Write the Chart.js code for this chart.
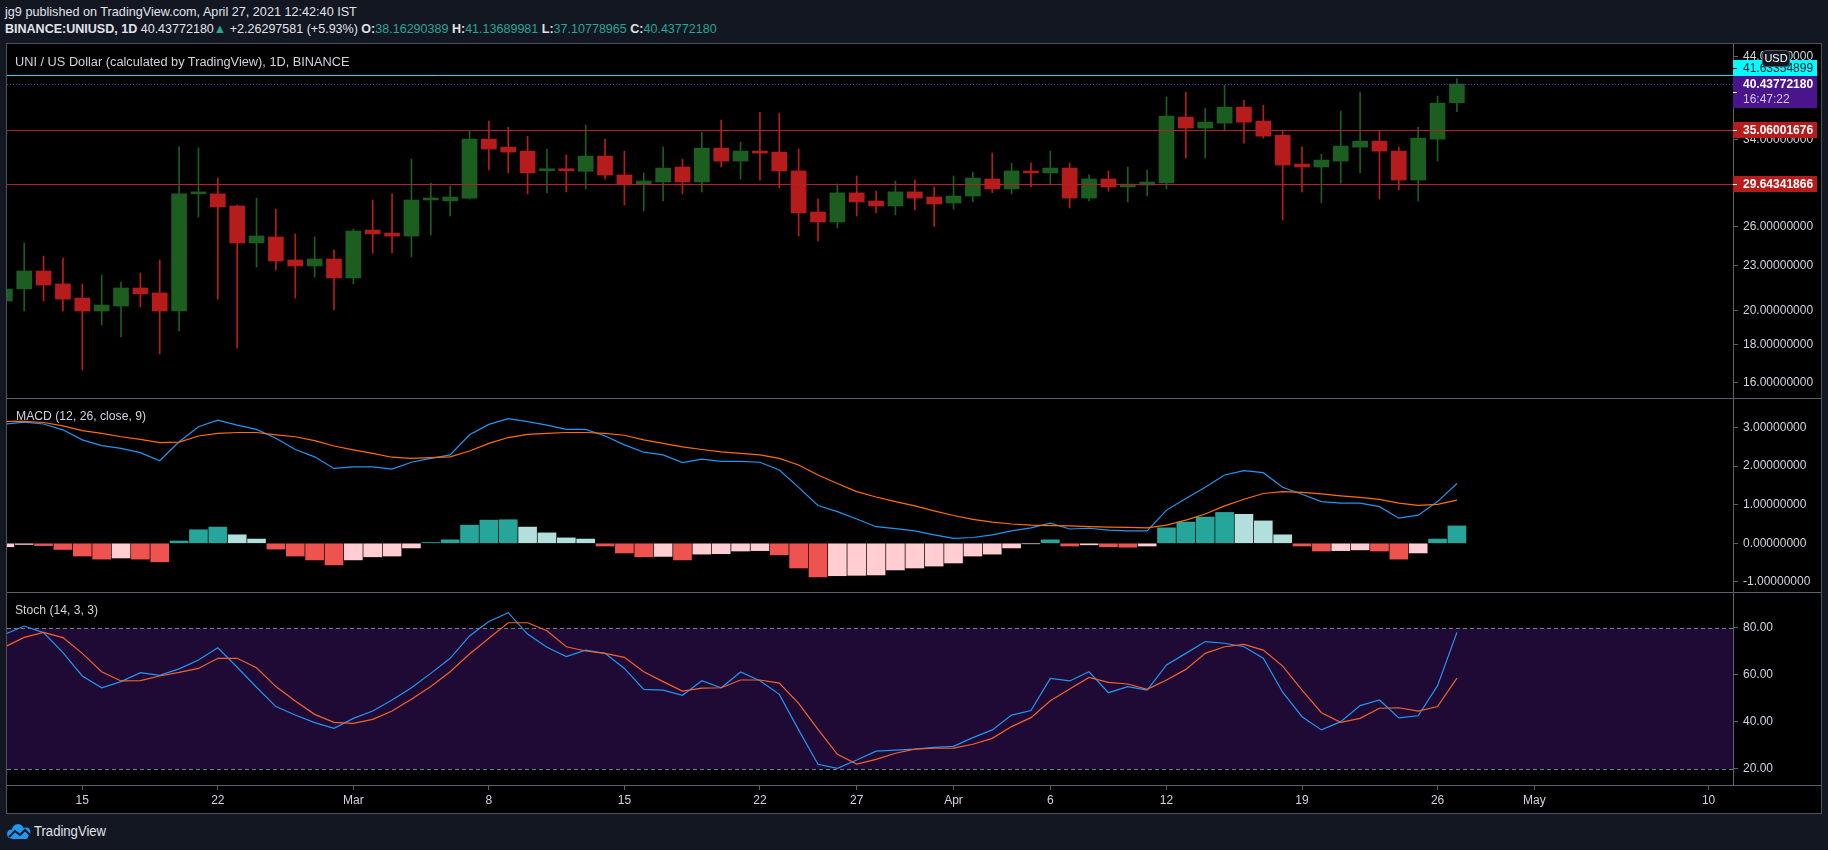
<!DOCTYPE html>
<html>
<head>
<meta charset="utf-8">
<title>UNI / US Dollar</title>
<script src="https://cdn.jsdelivr.net/npm/chart.js@4.4.0/dist/chart.umd.min.js"></script>
<style>
  html, body { margin: 0; padding: 0; }
  body {
    width: 1828px; height: 850px; position: relative; overflow: hidden;
    background: #131722; color: #d1d4dc;
    font-family: "Liberation Sans", Arial, sans-serif;
  }
  .txt { position: absolute; white-space: nowrap; line-height: 16px; transform-origin: 0 50%; }
  .g { color: #26a69a; }
  #frame {
    position: absolute; left: 6px; top: 43px; width: 1816px; height: 771px;
    box-sizing: border-box; border: 1px solid #4c525e; background: #000;
  }
  canvas { position: absolute; left: 7px; }
  .sep { position: absolute; left: 7px; width: 1814px; height: 1px; background: #5d606b; }
  #usd {
    position: absolute; left: 1762px; top: 50px; width: 28px; height: 17px; box-sizing: border-box;
    background: #131722; border: 1px solid #50535e; border-radius: 4px;
    font-size: 11px; line-height: 15px; text-align: center; color: #fff;
  }
</style>
</head>
<body>
<div class="txt" id="hdr1" style="left:5px;top:4px;font-size:13px;color:#e0e3eb">jg9 published on TradingView.com, April 27, 2021 12:42:40 IST</div>
<div class="txt" id="hdr2" style="left:5px;top:21px;font-size:13px;color:#e0e3eb"><b>BINANCE:UNIUSD, 1D</b> 40.43772180<span class="g">▲</span> +2.26297581 (+5.93%) <b>O:</b><span class="g">38.16290389</span> <b>H:</b><span class="g">41.13689981</span> <b>L:</b><span class="g">37.10778965</span> <b>C:</b><span class="g">40.43772180</span></div>

<div id="frame"></div>
<canvas id="price" width="1814" height="354" style="top:44px"></canvas>
<canvas id="macd" width="1814" height="193" style="top:399px"></canvas>
<canvas id="stoch" width="1814" height="220" style="top:593px"></canvas>
<div class="sep" style="top:398px"></div>
<div class="sep" style="top:592px"></div>
<div class="sep" style="top:785px"></div>

<div class="txt" id="title" style="left:15px;top:54px;font-size:12px">UNI / US Dollar (calculated by TradingView), 1D, BINANCE</div>
<div class="txt" id="macdLbl" style="left:16px;top:408px;font-size:12px">MACD (12, 26, close, 9)</div>
<div class="txt" id="stochLbl" style="left:15px;top:602px;font-size:12px">Stoch (14, 3, 3)</div>
<div id="usd">USD</div>

<svg style="position:absolute;left:6px;top:823px" width="27" height="17" viewBox="0 0 27 17">
  <g fill="#2196f3">
    <circle cx="12" cy="7" r="6"/>
    <circle cx="20" cy="9" r="4.5"/>
    <circle cx="5.5" cy="11" r="4.5"/>
    <rect x="5" y="9" width="17" height="7" rx="2"/>
  </g>
  <polyline points="3,14 9,8 14,12 19,7 24,12" stroke="#131722" stroke-width="2" fill="none"/>
</svg>
<div class="txt" id="tvText" style="left:34px;top:823px;font-size:14px;color:#e0e3eb">TradingView</div>

<script>
// daily candles, Feb 11 .. Apr 27 2021
const firstDate = "2021-02-11";
const opens = [20.63, 21.42, 22.64, 21.75, 20.82, 20.00, 20.31, 21.48, 21.15, 20.00,
  28.76, 28.76, 27.70, 24.70, 25.16, 23.43, 23.00, 23.50, 22.16, 25.71,
  25.47, 25.23, 28.22, 28.14, 28.39, 34.08, 33.25, 32.84, 30.90, 31.00,
  30.85, 32.34, 30.50, 29.65, 29.84, 31.26, 29.84, 33.15, 31.84, 32.84,
  32.74, 30.88, 27.19, 26.36, 28.85, 28.13, 27.70, 28.94, 28.48, 27.96,
  28.57, 30.12, 29.20, 30.88, 30.69, 31.16, 28.39, 30.12, 29.38, 29.56,
  29.75, 36.49, 35.27, 35.82, 37.64, 36.05, 34.50, 31.55, 31.26, 31.84,
  33.25, 33.87, 32.84, 30.02, 34.08, 38.16];
const highs = [22.00, 24.70, 23.72, 23.58, 21.75, 22.36, 21.88, 22.50, 23.43, 33.28,
  33.17, 30.21, 27.80, 28.39, 27.44, 25.40, 25.16, 24.17, 25.79, 28.22,
  28.76, 32.04, 29.74, 29.47, 35.05, 36.05, 35.37, 34.40, 33.05, 32.44,
  35.60, 34.08, 32.84, 30.69, 33.25, 32.04, 34.84, 36.16, 33.77, 37.05,
  36.94, 33.05, 28.30, 29.65, 30.40, 29.02, 29.93, 30.02, 29.38, 30.40,
  30.78, 32.64, 31.64, 31.64, 32.84, 31.64, 30.50, 30.88, 31.26, 30.97,
  38.84, 39.43, 37.52, 40.30, 38.47, 37.87, 35.05, 33.28, 32.54, 37.17,
  39.43, 34.94, 33.25, 35.37, 38.95, 41.14];
const lows = [20.30, 20.00, 20.63, 20.00, 16.66, 19.15, 18.45, 20.25, 17.50, 18.80,
  26.77, 20.75, 17.83, 22.92, 22.71, 20.82, 22.22, 20.06, 21.75, 23.94,
  23.94, 23.65, 25.32, 26.85, 28.30, 30.97, 30.69, 28.76, 28.85, 28.94,
  29.20, 30.10, 27.78, 27.28, 28.13, 28.76, 28.94, 31.26, 30.10, 30.02,
  29.29, 25.24, 24.85, 25.87, 26.85, 27.11, 26.94, 27.36, 26.00, 27.44,
  28.05, 28.85, 28.76, 29.38, 29.56, 27.53, 28.13, 29.02, 28.05, 28.57,
  29.20, 32.14, 32.14, 34.94, 33.66, 34.19, 26.52, 28.94, 27.96, 29.74,
  30.69, 28.30, 29.11, 28.13, 31.84, 37.11];
const closes = [21.41, 22.64, 21.68, 20.75, 20.00, 20.37, 21.48, 21.09, 20.00, 28.76,
  28.82, 27.62, 24.70, 25.24, 23.36, 23.00, 23.50, 22.16, 25.63, 25.40,
  25.23, 28.22, 28.30, 28.48, 34.08, 33.05, 32.74, 30.69, 31.00, 30.90,
  32.34, 30.50, 29.65, 29.93, 31.16, 29.84, 33.15, 31.84, 32.84, 32.64,
  30.88, 27.11, 26.36, 28.85, 28.05, 27.70, 28.94, 28.39, 27.87, 28.57,
  30.21, 29.20, 30.88, 30.69, 31.16, 28.39, 30.12, 29.38, 29.65, 29.84,
  36.60, 35.27, 35.93, 37.64, 35.93, 34.40, 31.45, 31.26, 31.94, 33.36,
  33.87, 32.84, 30.02, 34.19, 38.11, 40.44];

const macdLine = [3.09, 3.14, 3.09, 2.94, 2.68, 2.53, 2.46, 2.35, 2.14, 2.63,
  3.02, 3.19, 3.06, 2.95, 2.72, 2.43, 2.24, 1.94, 1.98, 1.98,
  1.92, 2.10, 2.20, 2.29, 2.81, 3.08, 3.23, 3.15, 3.06, 2.95,
  2.95, 2.78, 2.55, 2.36, 2.29, 2.09, 2.18, 2.12, 2.12, 2.10,
  1.90, 1.45, 0.98, 0.82, 0.63, 0.43, 0.38, 0.32, 0.22, 0.13,
  0.15, 0.22, 0.32, 0.40, 0.52, 0.37, 0.39, 0.34, 0.32, 0.32,
  0.86, 1.16, 1.45, 1.77, 1.88, 1.83, 1.45, 1.27, 1.08, 1.04,
  1.04, 0.95, 0.65, 0.73, 1.08, 1.55];
const signalLine = [3.16, 3.16, 3.13, 3.04, 2.92, 2.85, 2.76, 2.69, 2.61, 2.62,
  2.78, 2.85, 2.87, 2.87, 2.81, 2.76, 2.66, 2.52, 2.42, 2.33,
  2.23, 2.20, 2.22, 2.24, 2.39, 2.59, 2.74, 2.82, 2.85, 2.87,
  2.87, 2.85, 2.80, 2.68, 2.59, 2.50, 2.43, 2.37, 2.33, 2.29,
  2.20, 2.03, 1.77, 1.55, 1.34, 1.20, 1.08, 0.97, 0.84, 0.72,
  0.62, 0.55, 0.50, 0.47, 0.46, 0.45, 0.43, 0.42, 0.41, 0.40,
  0.47, 0.60, 0.76, 0.97, 1.14, 1.29, 1.34, 1.32, 1.28, 1.23,
  1.19, 1.14, 1.04, 0.98, 1.01, 1.12];
const macdHist = [-0.09, -0.03, -0.06, -0.16, -0.33, -0.41, -0.38, -0.41, -0.48, 0.06,
  0.35, 0.42, 0.22, 0.11, -0.15, -0.33, -0.43, -0.56, -0.43, -0.35,
  -0.33, -0.12, 0.02, 0.09, 0.47, 0.60, 0.61, 0.42, 0.27, 0.14,
  0.11, -0.07, -0.25, -0.35, -0.34, -0.43, -0.28, -0.27, -0.20, -0.19,
  -0.30, -0.64, -0.87, -0.84, -0.83, -0.82, -0.69, -0.64, -0.59, -0.51,
  -0.33, -0.28, -0.12, -0.01, 0.09, -0.07, -0.04, -0.09, -0.10, -0.07,
  0.40, 0.55, 0.68, 0.80, 0.75, 0.58, 0.22, -0.07, -0.20, -0.19,
  -0.17, -0.20, -0.41, -0.25, 0.11, 0.45];

const stochK = [77.2, 80.7, 77.9, 69.4, 59.5, 54.5, 57.1, 60.9, 59.8, 62.5,
  66.3, 71.5, 63.2, 54.7, 46.5, 42.9, 39.7, 37.3, 41.5, 44.6,
  49.3, 54.5, 60.6, 67.0, 76.5, 82.6, 86.4, 77.3, 71.7, 67.7,
  70.5, 69.1, 62.7, 53.8, 53.5, 51.3, 57.5, 54.5, 61.2, 57.5,
  51.7, 36.6, 22.0, 20.3, 23.8, 27.6, 28.0, 28.4, 29.2, 29.6,
  33.3, 36.6, 42.9, 44.8, 58.5, 57.4, 61.3, 52.4, 55.0, 53.5,
  64.2, 69.1, 74.1, 73.4, 71.9, 67.0, 52.6, 42.2, 36.6, 40.1,
  46.9, 49.3, 41.7, 42.6, 55.4, 78.0];
const stochD = [71.9, 75.9, 78.0, 75.8, 69.1, 61.3, 57.4, 57.5, 59.5, 61.0,
  62.7, 67.0, 67.0, 63.0, 55.0, 48.9, 43.2, 39.8, 39.4, 41.1,
  44.6, 49.6, 55.0, 61.3, 68.8, 75.5, 82.1, 82.1, 78.7, 71.9,
  70.1, 69.1, 67.4, 61.3, 57.1, 53.1, 54.3, 54.5, 57.8, 57.8,
  56.5, 47.9, 36.8, 26.2, 22.1, 24.1, 26.7, 28.4, 28.8, 28.9,
  30.5, 33.0, 38.0, 41.8, 49.0, 54.0, 58.9, 56.8, 56.1, 53.8,
  57.8, 62.3, 69.1, 71.9, 72.9, 70.5, 63.7, 53.5, 43.9, 39.8,
  41.5, 45.8, 46.0, 44.6, 46.5, 58.6];

const priceTicks = [16, 18, 20, 23, 26, 34, 39, 44];
const macdTicks = [-1, 0, 1, 2, 3];
const stochTicks = [20, 40, 60, 80];
const stochBand = [20, 80];
const srLevels = [35.06001676, 29.64341866];
const dayHigh = 41.63354899;
const lastClose = 40.43772180;
const countdown = "16:47:22";
const tickDates = ["2021-02-15", "2021-02-22", "2021-03-01", "2021-03-08", "2021-03-15", "2021-03-22", "2021-03-27",
  "2021-04-01", "2021-04-06", "2021-04-12", "2021-04-19", "2021-04-26", "2021-05-01", "2021-05-10"];
const tickLabels = ["15", "22", "Mar", "8", "15", "22", "27", "Apr", "6", "12", "19", "26", "May", "10"];

const GREEN = "#1b5e20";
const RED = "#b71c1c";
const AXIS = "#5d606b";
const FONT = '"Liberation Sans", Arial, sans-serif';

Chart.defaults.font.family = FONT;
Chart.defaults.font.size = 12;
Chart.defaults.color = "#d1d4dc";
Chart.defaults.animation = false;
Chart.defaults.plugins.legend.display = false;
Chart.defaults.plugins.tooltip.enabled = false;

const dayNum = d => (Date.parse(d) - Date.parse("2021-02-15")) / 864e5;
const dates = opens.map((_, i) => new Date(Date.parse(firstDate) + i * 864e5).toISOString().slice(0, 10));
const xs = dates.map(dayNum);
const pts = arr => xs.map((x, i) => ({ x: x, y: arr[i] }));

function xAxis(show) {
  return {
    type: "linear", min: -3.889, max: 85.26, display: show, offset: false,
    grid: { offset: false, drawOnChartArea: false, drawTicks: true, tickLength: 5, color: AXIS },
    border: { display: false },
    afterBuildTicks: s => { s.ticks = tickDates.map(d => ({ value: dayNum(d) })); },
    ticks: { autoSkip: false, maxRotation: 0, padding: 3, callback: (v, i) => tickLabels[i] },
    afterFit: s => { s.height = show ? 28 : 0; s.paddingLeft = 0; s.paddingRight = 0; }
  };
}

function yAxis(extra) {
  return Object.assign({
    position: "right",
    grid: { drawOnChartArea: false, drawTicks: true, tickLength: 5, color: AXIS },
    border: { display: true, color: AXIS },
    afterFit: s => { s.width = 88; s.paddingTop = 0; s.paddingBottom = 0; }
  }, extra);
}

function baseOptions(x, y) {
  return {
    responsive: false, devicePixelRatio: 1,
    layout: { padding: 0, autoPadding: false },
    scales: { x: x, y: y }
  };
}

const candleColor = c => closes[c.dataIndex] >= opens[c.dataIndex] ? GREEN : RED;

function histColor(i) {
  const v = macdHist[i];
  const prev = i > 0 ? macdHist[i - 1] : v - 1;
  if (v >= 0) return v > prev ? "#26a69a" : "#b2dfdb";
  return v > prev ? "#ffcdd2" : "#ef5350";
}

const priceLines = {
  id: "priceLines",
  afterDatasetsDraw(chart) {
    const { ctx, chartArea: a, scales: { y } } = chart;
    function line(v, color, dash) {
      const py = Math.round(y.getPixelForValue(v)) + 0.5;
      ctx.strokeStyle = color;
      ctx.setLineDash(dash);
      ctx.beginPath();
      ctx.moveTo(a.left, py);
      ctx.lineTo(a.right, py);
      ctx.stroke();
    }
    ctx.save();
    ctx.lineWidth = 1;
    srLevels.forEach(v => line(v, "#b22222", []));
    line(dayHigh, "#00e5ff", []);
    line(lastClose, "#6236b8", [1, 2]);
    ctx.restore();
  }
};

const axisTags = {
  id: "axisTags",
  afterDraw(chart) {
    const { ctx, chartArea: a, scales: { y } } = chart;
    const x0 = a.right, w = 84;
    function box(top, h, bg, fg) {
      ctx.fillStyle = bg;
      ctx.fillRect(x0, top, w, h);
      ctx.fillStyle = fg;
      ctx.fillRect(x0, top + Math.floor(h / 2), 4, 1);
    }
    ctx.save();
    ctx.textBaseline = "middle";
    ctx.textAlign = "left";
    ctx.font = "bold 12px " + FONT;
    srLevels.forEach(v => {
      const py = Math.round(y.getPixelForValue(v));
      box(py - 8, 16, RED, "#fff");
      ctx.fillStyle = "#fff";
      ctx.fillText(v.toFixed(8), x0 + 10, py + 0.5);
    });
    const pc = Math.round(y.getPixelForValue(lastClose));
    const pTop = pc - 8;
    box(pTop, 32, "#4a148c", "#fff");
    ctx.fillStyle = "#fff";
    ctx.fillText(lastClose.toFixed(8), x0 + 10, pc + 0.5);
    ctx.font = "12px " + FONT;
    ctx.fillStyle = "#d1c4e9";
    ctx.fillText(countdown, x0 + 10, pc + 15.5);
    box(pTop - 16, 16, "#00ffff", "#131722");
    ctx.fillStyle = "#131722";
    ctx.fillText(dayHigh.toFixed(8), x0 + 10, pTop - 7.5);
    ctx.restore();
  }
};

const bandPlugin = {
  id: "stochBand",
  beforeDatasetsDraw(chart) {
    const { ctx, chartArea: a, scales: { y } } = chart;
    const top = Math.round(y.getPixelForValue(stochBand[1]));
    const bot = Math.round(y.getPixelForValue(stochBand[0]));
    ctx.save();
    ctx.fillStyle = "#1f0a36";
    ctx.fillRect(a.left, top, a.right - a.left, bot - top);
    ctx.strokeStyle = "#787b86";
    ctx.lineWidth = 1;
    ctx.setLineDash([4, 3]);
    [top, bot].forEach(py => {
      ctx.beginPath();
      ctx.moveTo(a.left, py + 0.5);
      ctx.lineTo(a.right, py + 0.5);
      ctx.stroke();
    });
    ctx.restore();
  }
};

new Chart(document.getElementById("price"), {
  type: "bar",
  data: {
    datasets: [
      {
        data: xs.map((x, i) => ({ x: x, y: [lows[i], highs[i]] })),
        backgroundColor: candleColor, barThickness: 1, grouped: false, order: 2
      },
      {
        data: xs.map((x, i) => ({ x: x, y: [opens[i], closes[i]] })),
        backgroundColor: candleColor, barThickness: 15, minBarLength: 2, grouped: false, order: 1
      }
    ]
  },
  options: baseOptions(xAxis(false), yAxis({
    type: "logarithmic", min: 15.27, max: 45.78, bounds: "data",
    afterBuildTicks: s => { s.ticks = priceTicks.map(v => ({ value: v })); },
    ticks: { padding: 5, callback: v => Number(v).toFixed(8) }
  })),
  plugins: [priceLines, axisTags]
});

new Chart(document.getElementById("macd"), {
  type: "bar",
  data: {
    datasets: [
      { type: "line", data: pts(macdLine), borderColor: "#2196f3", borderWidth: 1.2, pointRadius: 0, order: 1 },
      { type: "line", data: pts(signalLine), borderColor: "#ff6d00", borderWidth: 1.2, pointRadius: 0, order: 0 },
      {
        type: "bar", data: pts(macdHist), backgroundColor: c => histColor(c.dataIndex),
        barThickness: 18, grouped: false, order: 2
      }
    ]
  },
  options: baseOptions(xAxis(false), yAxis({
    type: "linear", min: -1.2617, max: 3.7383,
    afterBuildTicks: s => { s.ticks = macdTicks.map(v => ({ value: v })); },
    ticks: { padding: 5, callback: v => Number(v).toFixed(8) }
  })),
});

new Chart(document.getElementById("stoch"), {
  type: "line",
  data: {
    datasets: [
      { data: pts(stochK), borderColor: "#2196f3", borderWidth: 1.2, pointRadius: 0, order: 1 },
      { data: pts(stochD), borderColor: "#f4612a", borderWidth: 1.2, pointRadius: 0, order: 0 }
    ]
  },
  options: baseOptions(xAxis(true), yAxis({
    type: "linear", min: 13.206, max: 94.73,
    afterBuildTicks: s => { s.ticks = stochTicks.map(v => ({ value: v })); },
    ticks: { padding: 5, callback: v => Number(v).toFixed(2) }
  })),
  plugins: [bandPlugin]
});

// squeeze the text lines to the narrow widths of the snapshot font
const fits = { hdr1: 352, hdr2: 712, title: 335, macdLbl: 130, stochLbl: 83, tvText: 72 };
Object.keys(fits).forEach(id => {
  const el = document.getElementById(id);
  el.style.transform = "scaleX(" + (fits[id] / el.offsetWidth) + ")";
});
</script>
</body>
</html>
